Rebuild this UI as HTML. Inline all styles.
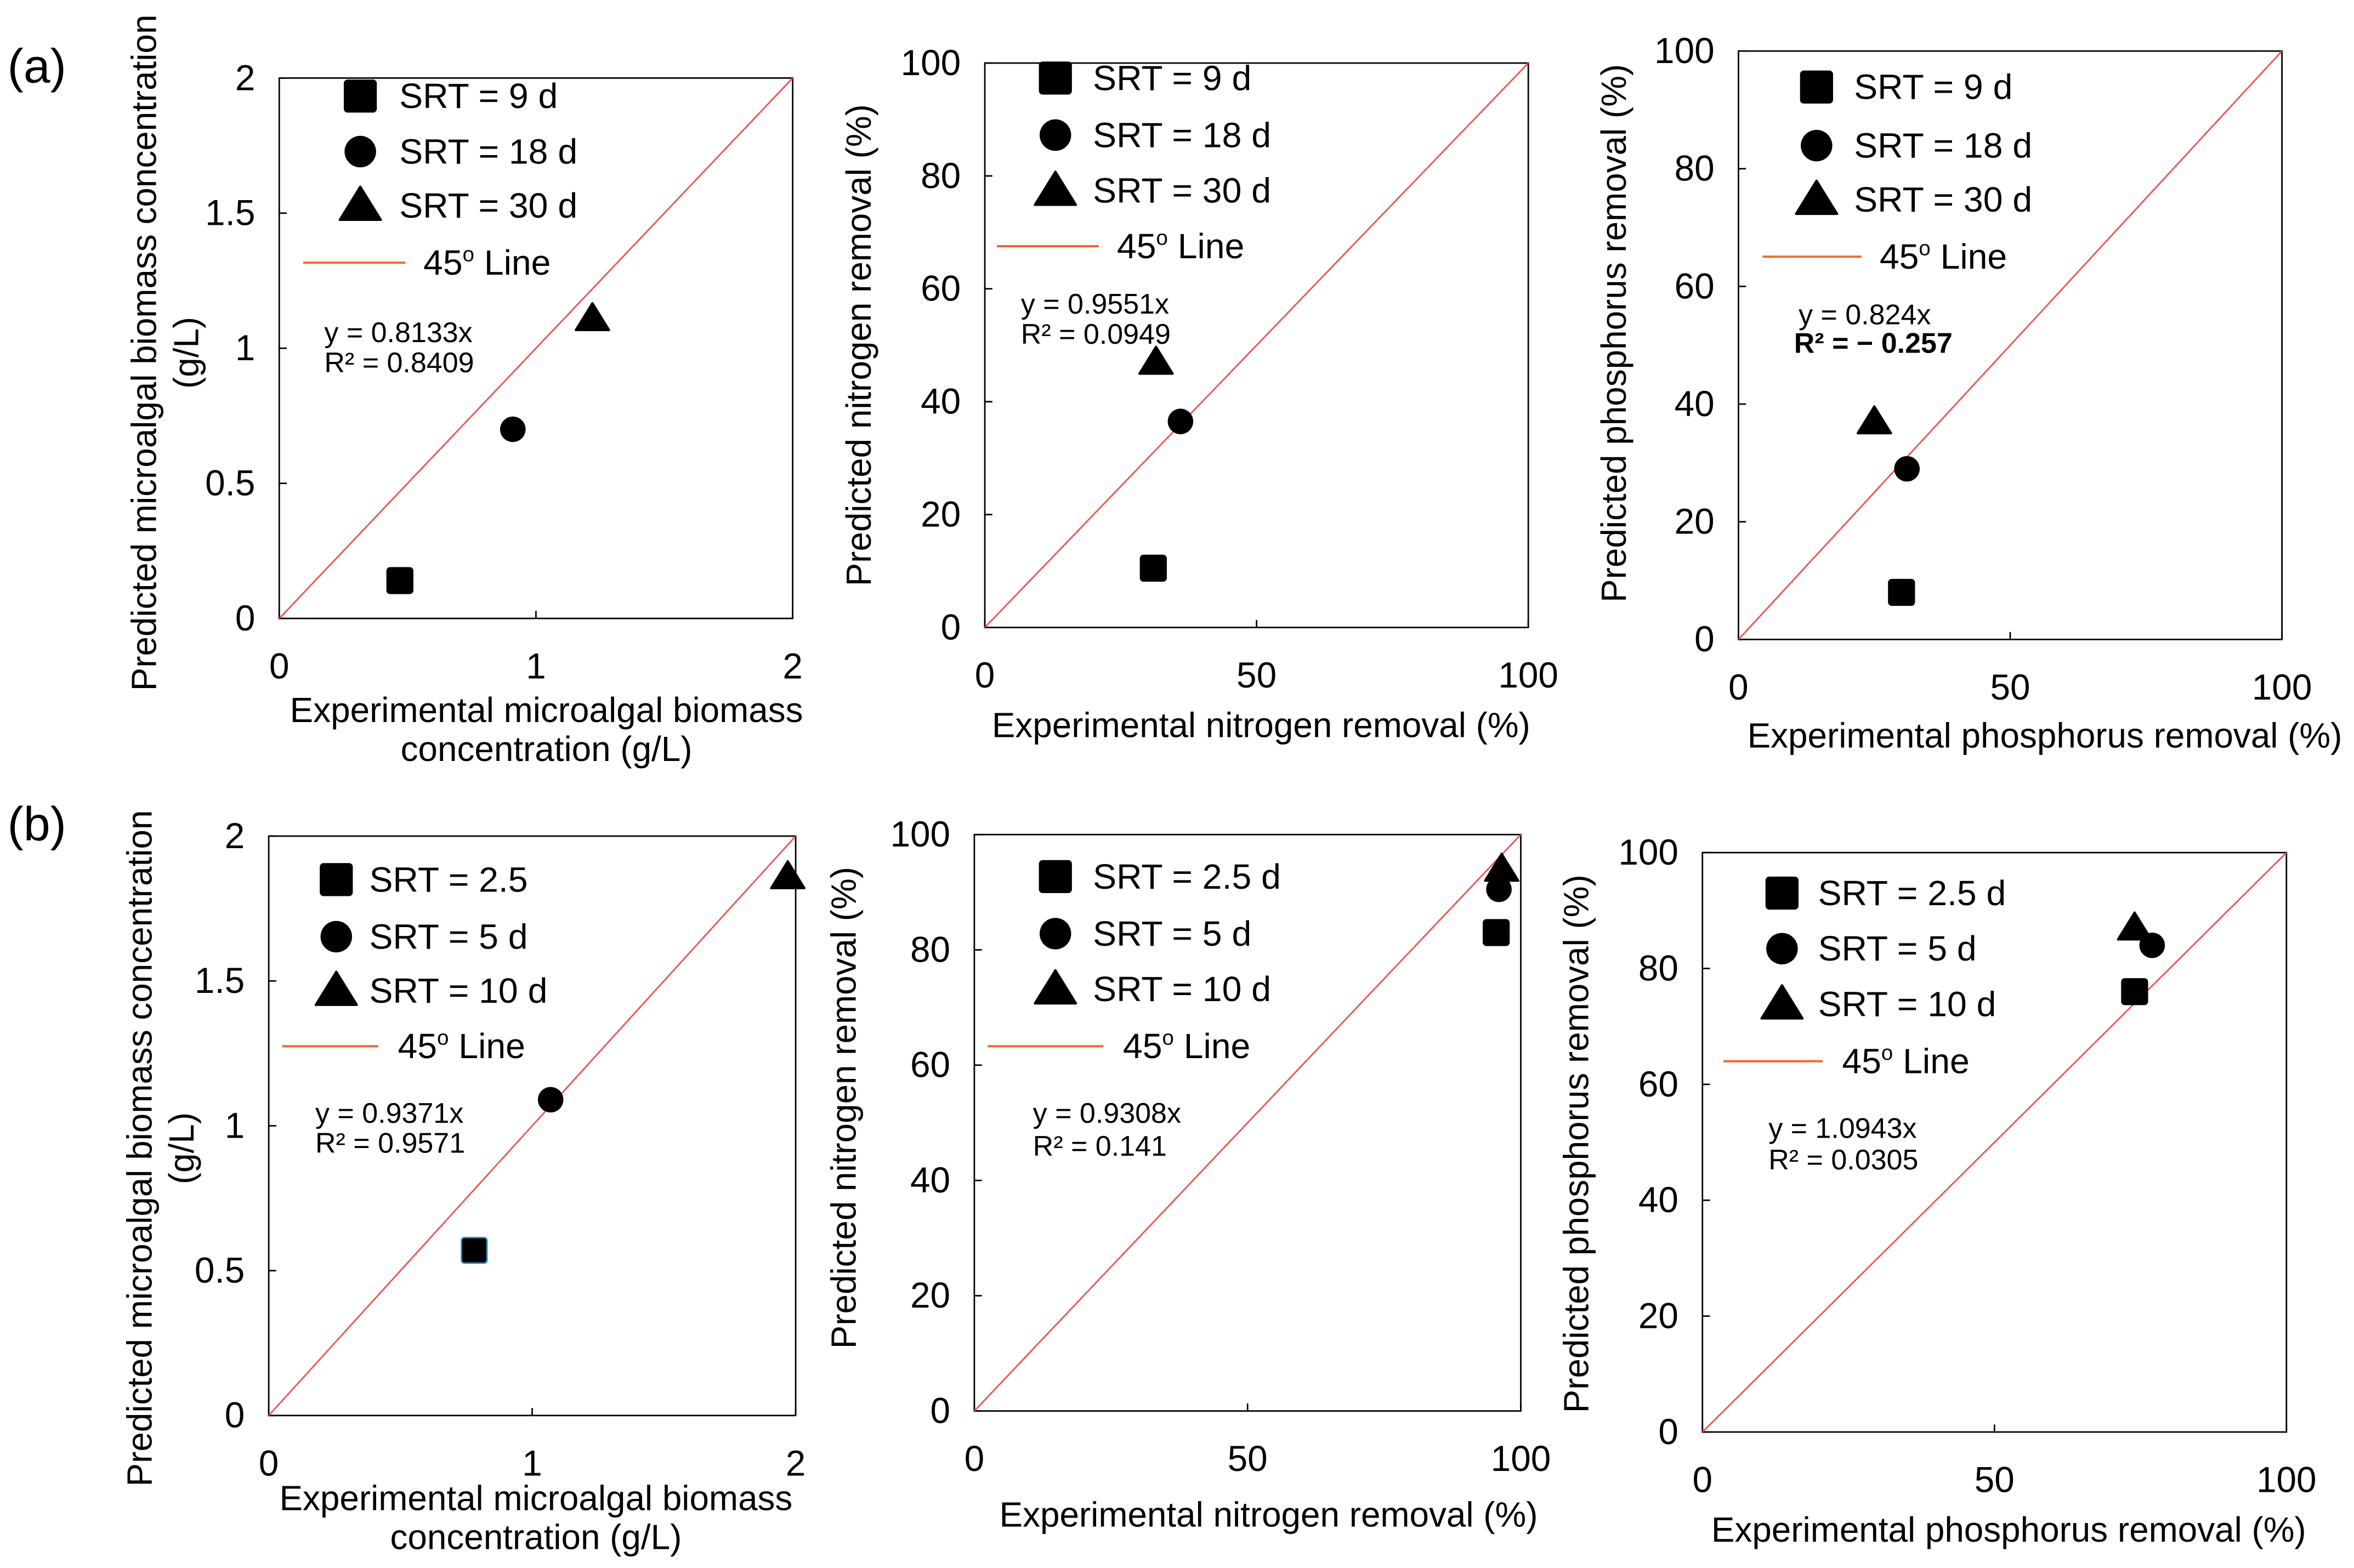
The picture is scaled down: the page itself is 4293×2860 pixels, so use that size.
<!DOCTYPE html>
<html><head><meta charset="utf-8"><style>
html,body{margin:0;padding:0;background:#fff;}
svg{display:block;font-family:"Liberation Sans",sans-serif;}
</style></head><body>
<svg id="fig" width="4293" height="2860" viewBox="0 0 1568 1044.6" preserveAspectRatio="none" xmlns="http://www.w3.org/2000/svg">
<text x="5" y="55" font-size="32">(a)</text>
<text x="5" y="560" font-size="32">(b)</text>
</svg>
<script>
// Data arrays
const panelNames = ["a-biomass","a-nitrogen","a-phosphorus","b-biomass","b-nitrogen","b-phosphorus"];
const axisMax = [2,100,100,2,100,100];
const yTickLabels = [["0","0.5","1","1.5","2"],["0","20","40","60","80","100"],["0","20","40","60","80","100"],["0","0.5","1","1.5","2"],["0","20","40","60","80","100"],["0","20","40","60","80","100"]];
const xTickLabels = [["0","1","2"],["0","50","100"],["0","50","100"],["0","1","2"],["0","50","100"],["0","50","100"]];
const seriesLabels = [["SRT = 9 d","SRT = 18 d","SRT = 30 d"],["SRT = 9 d","SRT = 18 d","SRT = 30 d"],["SRT = 9 d","SRT = 18 d","SRT = 30 d"],["SRT = 2.5","SRT = 5 d","SRT = 10 d"],["SRT = 2.5 d","SRT = 5 d","SRT = 10 d"],["SRT = 2.5 d","SRT = 5 d","SRT = 10 d"]];
const expValues = [[0.47,0.91,1.22],[31,36,31.5],[30,31,25],[0.78,1.07,1.97],[95.5,96,96.5],[74,77,74]];
const predValues = [[0.14,0.70,1.11],[10.5,36.5,47],[8,29,37],[0.57,1.09,1.86],[83,90.5,94],[76,84,87]];
const eqSlope = ["y = 0.8133x","y = 0.9551x","y = 0.824x","y = 0.9371x","y = 0.9308x","y = 1.0943x"];
const eqR2 = ["R² = 0.8409","R² = 0.0949","R² = − 0.257","R² = 0.9571","R² = 0.141","R² = 0.0305"];
const yTitles = [["Predicted microalgal biomass concentration","(g/L)"],["Predicted nitrogen removal (%)"],["Predicted phosphorus removal (%)"],["Predicted microalgal biomass concentration","(g/L)"],["Predicted nitrogen removal (%)"],["Predicted phosphorus removal (%)"]];
const xTitles = [["Experimental microalgal biomass","concentration (g/L)"],["Experimental nitrogen removal (%)"],["Experimental phosphorus removal (%)"],["Experimental microalgal biomass","concentration (g/L)"],["Experimental nitrogen removal (%)"],["Experimental phosphorus removal (%)"]];

// Layout (not data)
const L = [
 {x0:186,x1:528,y0:52,y1:412, ly:[64,101,137,175], lsx:240, ltx:266, lline:[202,270], l45x:282, eqx:216, eqy:[228,248], ytx:[104,132], yty:235, xty:[481,507], xtx:364},
 {x0:656,x1:1018,y0:42,y1:418, ly:[52,90,127,164], lsx:703, ltx:728, lline:[664,732], l45x:744, eqx:680, eqy:[209,229], ytx:[580], yty:230, xty:[491], xtx:840},
 {x0:1158,x1:1520,y0:34,y1:426, ly:[58,97,133,171], lsx:1210, ltx:1235, lline:[1174,1240], l45x:1252, eqx:1198, eqy:[216,235], ytx:[1083], yty:222, xty:[498], xtx:1362},
 {x0:179,x1:530,y0:557,y1:943, ly:[586,624,660,697], lsx:224, ltx:246, lline:[188,252], l45x:265, eqx:210, eqy:[748,768], ytx:[101,129], yty:765, xty:[1006,1032], xtx:357},
 {x0:649,x1:1013,y0:556,y1:940, ly:[584,622,659,697], lsx:703, ltx:728, lline:[658,735], l45x:748, eqx:688, eqy:[748,770], ytx:[570], yty:738, xty:[1017], xtx:845},
 {x0:1134,x1:1523,y0:568,y1:954, ly:[595,632,669,707], lsx:1187, ltx:1211, lline:[1148,1214], l45x:1227, eqx:1178, eqy:[758,779], ytx:[1058], yty:762, xty:[1027], xtx:1338}
];
const NS="http://www.w3.org/2000/svg";
const svg=document.getElementById("fig");
function mk(tag,attrs,parent,txt){const e=document.createElementNS(NS,tag);for(const k in attrs)e.setAttribute(k,attrs[k]);if(txt!==undefined)e.textContent=txt;(parent||svg).appendChild(e);return e;}
function marker(g,kind,cx,cy,s,col){
  let e;
  if(kind===0){e=mk("rect",{x:cx-s,y:cy-s,width:2*s,height:2*s,rx:2,fill:"#000",stroke:col||"#000","stroke-width":1},g);}
  else if(kind===1){e=mk("circle",{cx:cx,cy:cy,r:s,fill:"#000"},g);}
  else {e=mk("polygon",{points:`${cx},${cy-s*1.2} ${cx+s*1.3},${cy+s*0.9} ${cx-s*1.3},${cy+s*0.9}`,fill:"#000",stroke:"#000","stroke-width":1.5,"stroke-linejoin":"round"},g);}
  return e;
}
panelNames.forEach((pn,i)=>{
  const l=L[i], mx=axisMax[i];
  const g=mk("g",{});
  
  
  const sx=v=>l.x0+(v/mx)*(l.x1-l.x0);
  const sy=v=>l.y1-(v/mx)*(l.y1-l.y0);
  const box=mk("rect",{x:l.x0,y:l.y0,width:l.x1-l.x0,height:l.y1-l.y0,fill:"none",stroke:"#000","stroke-width":1},g);
  
  
  yTickLabels[i].forEach((t,k)=>{
    const v=mx*k/(yTickLabels[i].length-1), y=sy(v);
    mk("line",{x1:l.x0,x2:l.x0+5,y1:y,y2:y,stroke:"#000"},g);
    const tx=mk("text",{x:l.x0-16,y:y+8,"font-size":24,"text-anchor":"end"},g,t);
    
    
  });
  xTickLabels[i].forEach((t,k)=>{
    const v=mx*k/(xTickLabels[i].length-1), x=sx(v);
    mk("line",{x1:x,x2:x,y1:l.y1,y2:l.y1-5,stroke:"#000"},g);
    const tx=mk("text",{x:x,y:l.y1+40,"font-size":24,"text-anchor":"middle"},g,t);
    
    
  });
  const ln=mk("line",{x1:sx(0),y1:sy(0),x2:sx(mx),y2:sy(mx),stroke:"#f0504a","stroke-width":1},g);
  
  
  expValues[i].forEach((xv,k)=>{
    const m=marker(g,k,sx(xv),sy(predValues[i][k]),8.5,(i===3&&k===0)?"#2a8fbf":null);
    
    
  });
  seriesLabels[i].forEach((s,k)=>{
    const m=marker(g,k,l.lsx,l.ly[k],10.5);
    
    
    const t=mk("text",{x:l.ltx,y:l.ly[k]+8,"font-size":23.5},g,s);
    
    
  });
  mk("line",{x1:l.lline[0],x2:l.lline[1],y1:l.ly[3],y2:l.ly[3],stroke:"#f26a2e","stroke-width":1.5},g);
  const lt=mk("text",{x:l.l45x,y:l.ly[3]+8,"font-size":23.5},g);
  
  
  lt.innerHTML='45<tspan dy="-9" font-size="14">o</tspan><tspan dy="9"> Line</tspan>';
  const e1=mk("text",{x:l.eqx,y:l.eqy[0],"font-size":19},g,eqSlope[i]);
  
  
  const e2=mk("text",{x:l.eqx-(i===2?3:0),y:l.eqy[1],"font-size":19,"font-weight":i===2?"bold":"normal"},g,eqR2[i]);
  
  
  yTitles[i].forEach((t,k)=>{
    const x=l.ytx[k];
    const tt=mk("text",{x:x,y:l.yty,"font-size":23.3,"text-anchor":"middle",transform:`rotate(-90 ${x} ${l.yty})`},g,t);
    
    
  });
  xTitles[i].forEach((t,k)=>{
    const tt=mk("text",{x:l.xtx,y:l.xty[k],"font-size":23.3,"text-anchor":"middle"},g,t);
    
    
  });
});
</script>
</body></html>
